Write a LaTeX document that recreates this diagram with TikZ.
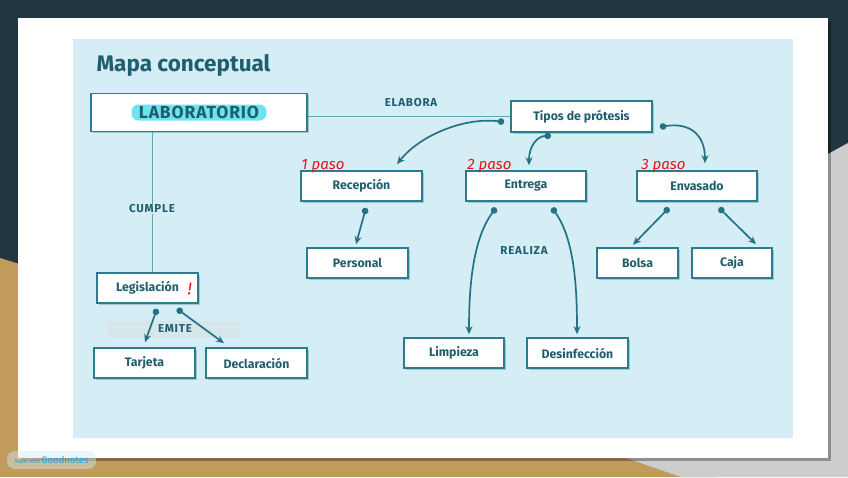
\documentclass[tikz,border=0pt]{standalone}
\usepackage{fontspec}
\setmainfont{Fira Sans}
\usetikzlibrary{positioning,arrows.meta,calc,shadows}
\definecolor{cDark}{HTML}{22363F}
\definecolor{cTan}{HTML}{C09B5B}
\definecolor{cGray}{HTML}{CDCDCD}
\definecolor{cPanel}{HTML}{D5EDF5}
\definecolor{cBorder}{HTML}{2B7C8C}
\definecolor{cText}{HTML}{1F5E6E}
\definecolor{cLink}{HTML}{237385}
\definecolor{cPlain}{HTML}{62A5B5}
\definecolor{cMark}{HTML}{6FE3EE}
\definecolor{cRed}{HTML}{E3141B}
\definecolor{cBand}{HTML}{D6E6EB}

\begin{document}
\begin{tikzpicture}[x=1pt,y=-1pt,
    box/.style={draw=cBorder,line width=1.6pt,fill=white,text=cText,
                font=\bfseries\fontsize{12.3}{12.3}\selectfont,
                minimum height=30pt,inner sep=0pt,
                drop shadow={shadow xshift=1.5pt,shadow yshift=-1.8pt,fill=cBorder!70,opacity=.5}},
    rel/.style={text=cText,font=\bfseries\fontsize{11.5}{11.5}\selectfont\addfontfeatures{LetterSpace=7},inner sep=1pt},
    link/.style={draw=cLink,line width=1.7pt,{Circle[length=6.5pt]}-{Stealth[length=8pt,width=7pt]}},
    plain/.style={draw=cPlain,line width=.9pt},
    paso/.style={text=cRed,font=\itshape\fontsize{15}{15}\selectfont,inner sep=0pt,anchor=base west}]
    \useasboundingbox (0,0) rectangle (848,477);
    \fill[cDark] (0,0) rectangle (848,477);
    \fill[cTan] (0,258) -- (717,477) -- (0,477) -- cycle;
    \fill[cGray] (848,143) -- (411,383) -- (681,477) -- (848,477) -- cycle;
    \fill[black,opacity=.3] (21,21) rectangle (831,461);
    \fill[white] (18,18) rectangle (828,458);
    \fill[cPanel] (73,39) rectangle (793,438);
    \fill[cBand] (108,321) rectangle (240,338);

    \node[anchor=west,text=cText,font=\bfseries\fontsize{22.5}{22.5}\selectfont] (title) at (93,65) {Mapa conceptual};

    \node[box,minimum width=216pt,minimum height=38pt] (lab) at (199,112.5) {};
    \node[fill=cMark,rounded corners=7pt,text=cText,
          font=\bfseries\fontsize{17.5}{17.5}\selectfont\addfontfeatures{LetterSpace=5},
          minimum width=135pt,minimum height=16pt,inner sep=0pt] (labtxt) at (lab) {LABORATORIO};
    \node[box,minimum width=141pt,minimum height=31pt] (tipos) at (581.5,116.5) {Tipos de prótesis};
    \node[box,minimum width=121pt] (recep) at (361.5,186) {Recepción};
    \node[box,minimum width=120pt] (entr) at (526,186) {Entrega};
    \node[box,minimum width=120pt] (envas) at (697,186) {Envasado};
    \node[box,minimum width=101pt] (pers) at (357.5,263) {Personal};
    \node[box,minimum width=81pt] (bolsa) at (637.5,263) {Bolsa};
    \node[box,minimum width=80pt] (caja) at (732,263) {Caja};
    \node[box,minimum width=100pt] (limp) at (454,353) {Limpieza};
    \node[box,minimum width=101pt] (desinf) at (577.5,353) {Desinfección};
    \node[box,minimum width=101pt] (legis) at (147.5,288) {Legislación};
    \node[box,minimum width=101pt] (tarj) at (144.5,363) {Tarjeta};
    \node[box,minimum width=101pt] (decl) at (256.5,363) {Declaración};

    \node[rel] (elab) at (411,103) {ELABORA};
    \node[rel] (cump) at (152,209) {CUMPLE};
    \node[rel] (realiza) at (524,251) {REALIZA};
    \node[rel] (emite) at (175,329) {EMITE};

    \draw[plain] (lab.east |- tipos.west) -- (tipos.west);
    \draw[plain] (cump.north |- lab.south) -- (cump.north);
    \draw[plain] (cump.south) -- (cump.south |- legis.north);

    \draw[link] ($(tipos.west)+(-6,5.5)$) .. controls (465,117) and (420,135) .. ($(recep.north)+(35.5,-6)$);
    \draw[link] ($(tipos.south)+(-30.5,3)$) .. controls (538,136) and (529,145) .. ($(entr.north)+(3,-5)$);
    \draw[link] ($(tipos.east)+(7,10.5)$) .. controls (690,122) and (705,135) .. ($(envas.north)+(8,-7)$);
    \draw[link] ($(recep.south)+(4.5,6)$) -- ($(pers.north)+(-1.5,-3)$);
    \draw[link] ($(entr.south)+(-30,6)$) .. controls (472,240) and (469,290) .. ($(limp.north)+(15,-3)$);
    \draw[link] ($(entr.south)+(26,6)$) .. controls (575,240) and (577,290) .. ($(desinf.north)+(-0.5,-3)$);
    \draw[link] ($(envas.south)+(-28,6)$) -- ($(bolsa.north)+(-4.5,-2.5)$);
    \draw[link] ($(envas.south)+(22,6)$) -- ($(caja.north)+(24,-3)$);
    \draw[link] ($(legis.south)+(9.5,5)$) -- ($(tarj.north)+(0.5,-5)$);
    \draw[link] ($(legis.south)+(29.5,5)$) -- ($(decl.north)+(-32.5,-4)$);

    \node[paso] (paso1) at ($(recep.north west)+(1,-1)$) {1 paso};
    \node[paso] (paso2) at ($(entr.north west)+(2,-1)$) {2 paso};
    \node[paso] (paso3) at ($(envas.north west)+(5,-1)$) {3 paso};
    \node[text=cRed,font=\fontsize{17}{17}\selectfont,inner sep=0pt,rotate=-8] (excl) at (190,289) {!};

    \node[fill=cPanel,fill opacity=.45,text opacity=1,rounded corners=8pt,minimum width=89pt,
          minimum height=18pt,inner sep=0pt,text=cyan!70!teal] (gn) at (51.5,460)
          {\fontsize{5.5}{5.5}\selectfont Made with \fontsize{9.5}{9.5}\selectfont Goodnotes};
\end{tikzpicture}
\end{document}
